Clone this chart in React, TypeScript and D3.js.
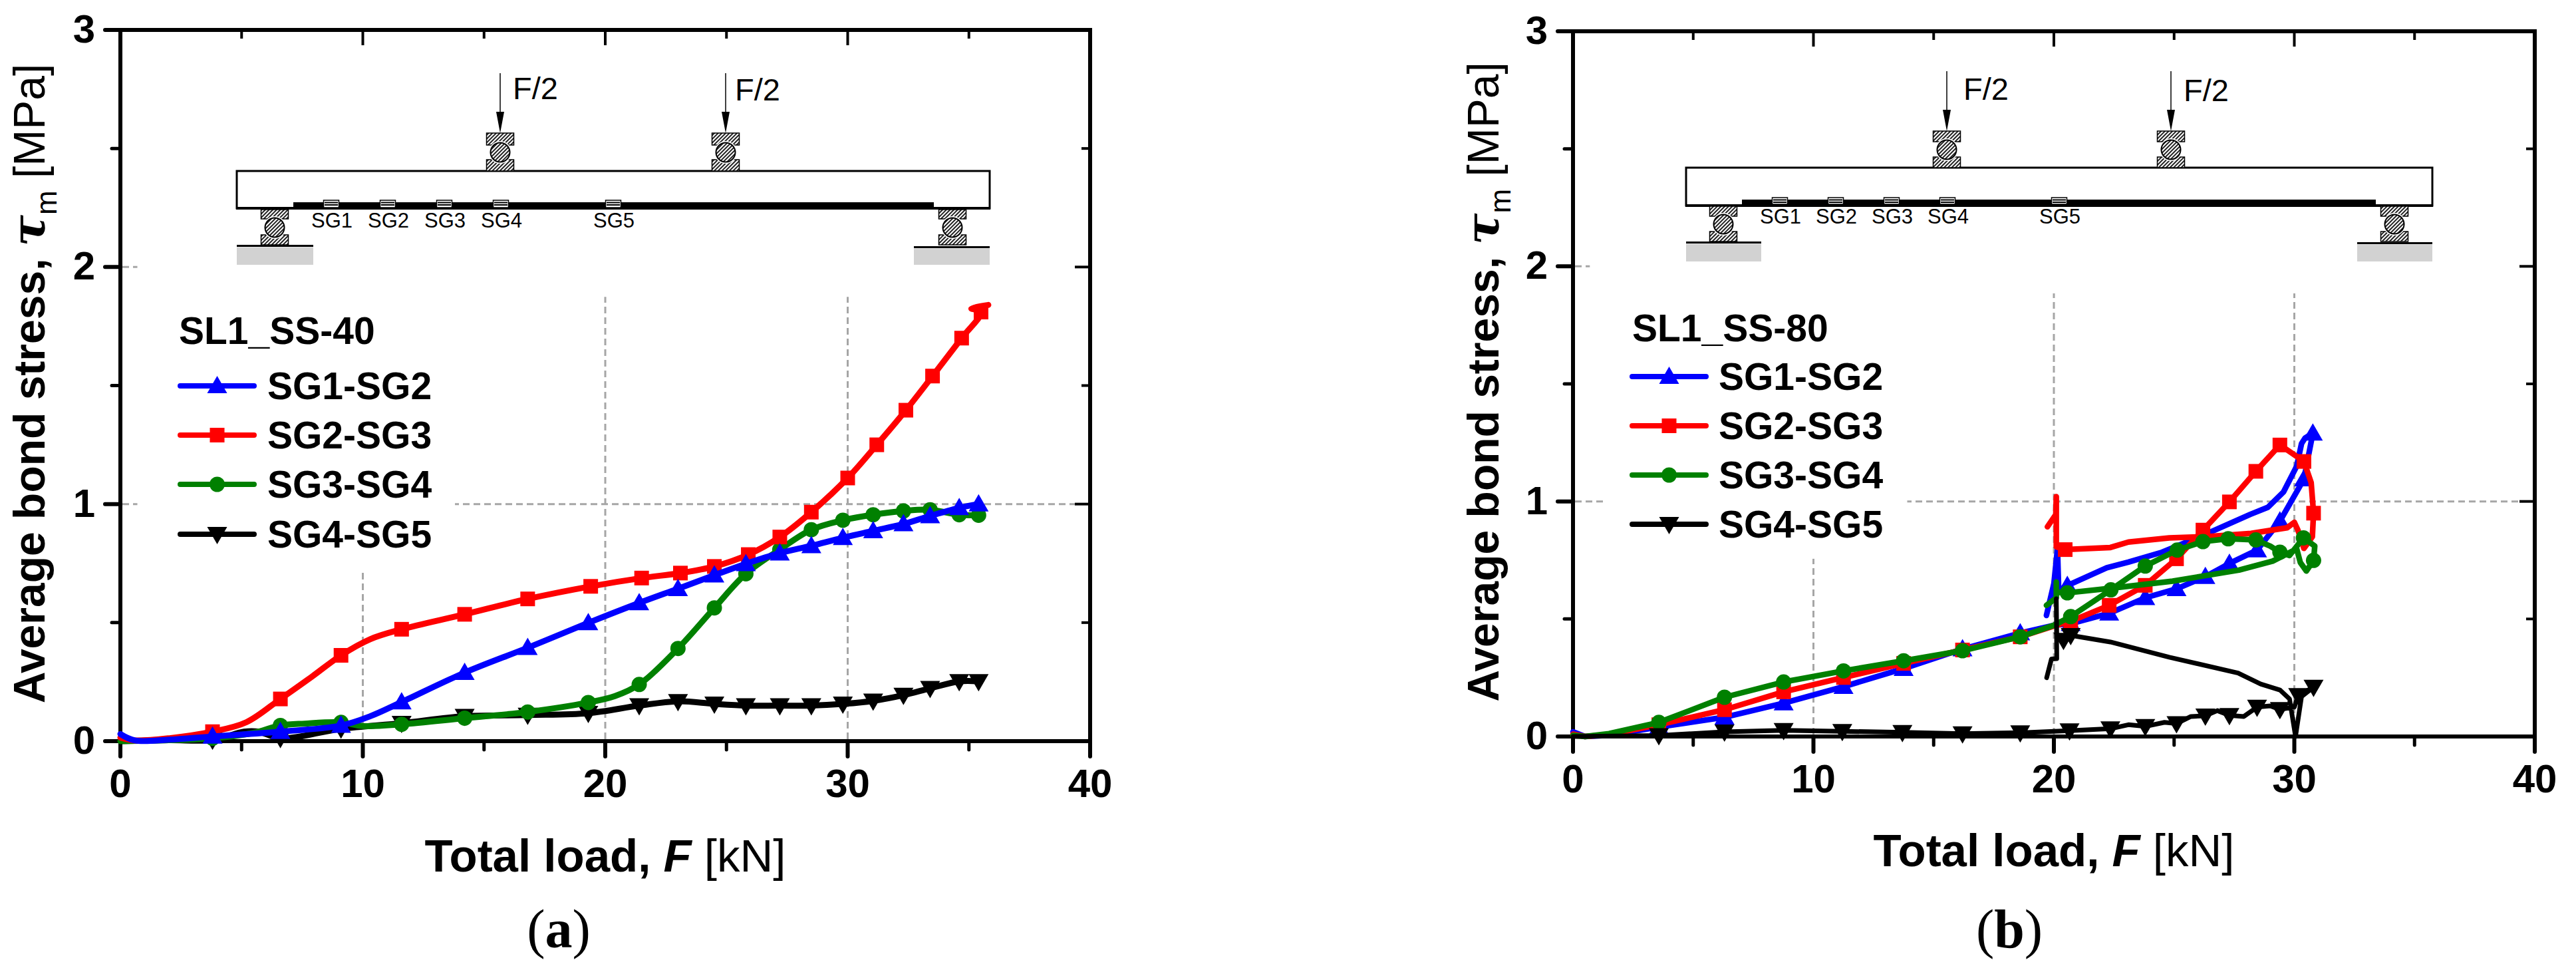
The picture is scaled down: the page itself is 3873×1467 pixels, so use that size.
import React from "react";
import * as d3 from "d3";

type P = [number, number, number?];

const seriesNames = ["SG1-SG2", "SG2-SG3", "SG3-SG4", "SG4-SG5"];
const seriesColors = ["#0000ff", "#ff0000", "#008000", "#000000"];
const seriesShapes = ["up", "square", "circle", "down"];
const xMajor = [0, 10, 20, 30, 40];
const xMinor = [5, 15, 25, 35];
const yMajor = [0, 1, 2, 3];
const yMinor = [0.5, 1.5, 2.5];
const gaugeNames = ["SG1", "SG2", "SG3", "SG4", "SG5"];

// third tuple element = a marker is drawn at this reading
const a_sg12: P[] = [[0,0.03],[0.6,0.003],[2,0.006],[3.8,0.02,1],[6.6,0.04,1],[9.1,0.066,1],[10.3,0.105],[11.6,0.165,1],[14.2,0.289,1],[16.8,0.394,1],[19.3,0.499,1],[21.4,0.583,1],[23,0.643,1],[24.5,0.7,1],[25.8,0.748,1],[27.2,0.793,1],[28.5,0.824,1],[29.8,0.858,1],[31.05,0.887,1],[32.3,0.916,1],[33.4,0.95,1],[34.6,0.984,1],[35.4,1.0,1]];
const a_sg23: P[] = [[0,0.015],[0.6,0.003],[2,0.012],[3.8,0.04,1],[5.2,0.08],[6.6,0.178,1],[7.9,0.272],[9.1,0.362,1],[10.3,0.43],[11.6,0.472,1],[14.2,0.535,1],[16.8,0.6,1],[19.4,0.653,1],[21.5,0.688,1],[23.1,0.709,1],[24.5,0.737,1],[25.9,0.787,1],[27.2,0.861,1],[28.5,0.966,1],[30,1.11,1],[31.2,1.25,1],[32.4,1.396,1],[33.5,1.54,1],[34.7,1.7,1],[35.5,1.81,1],[35.1,1.825],[35.8,1.84]];
const a_sg34: P[] = [[0,0],[2,0.004],[3.8,0.012,1],[5.5,0.035],[6.6,0.066,1],[7.6,0.074],[9.1,0.079,1],[10,0.064],[11.6,0.071,1],[14.2,0.097,1],[16.8,0.123,1],[19.3,0.163,1],[20.4,0.19],[21.4,0.239,1],[23,0.391,1],[24.5,0.562,1],[25.8,0.706,1],[27.2,0.808,1],[28.5,0.892,1],[29.8,0.932,1],[31.05,0.955,1],[32.3,0.971,1],[33.4,0.976,1],[34.6,0.955,1],[35.4,0.953,1]];
const a_sg45: P[] = [[0,0],[2,0.004],[3.8,0.005,1],[5.1,0.04],[5.7,0.04],[6.6,0.012,1],[9.1,0.052,1],[11.6,0.076,1],[14.2,0.105,1],[16.8,0.11,1],[19.3,0.118,1],[21.4,0.15,1],[23,0.168,1],[24.5,0.157,1],[25.8,0.15,1],[27.2,0.15,1],[28.5,0.15,1],[29.8,0.157,1],[31.05,0.17,1],[32.3,0.194,1],[33.4,0.223,1],[34.6,0.252,1],[35.4,0.252,1]];

const b_sg12: P[] = [[0,0.02],[0.5,0],[1.5,0.005],[3.57,0.04,1],[6.3,0.082,1],[8.76,0.142,1],[11.25,0.212,1],[13.75,0.289,1],[16.2,0.372,1],[18.6,0.44,1],[20,0.473],[20.7,0.48,1],[22.3,0.524,1],[23.8,0.59,1],[25.1,0.628,1],[26.3,0.68,1],[27.3,0.736,1],[28.45,0.793,1],[29.4,0.916,1],[30.4,1.095,1],[30.77,1.29,1],[30.45,1.27],[30.3,1.246],[30.1,1.15],[29.55,1.04],[28.9,0.975],[28.17,0.945],[26.3,0.86],[24.5,0.784],[23.1,0.742],[22.2,0.718],[20.56,0.642,1],[20.2,0.62],[20.15,0.8],[20,0.65],[19.69,0.515]];
const b_sg23: P[] = [[0,0.01],[0.5,0],[1.5,0.008],[3.57,0.05,1],[6.3,0.114,1],[8.76,0.19,1],[11.25,0.251,1],[13.75,0.311,1],[16.2,0.368,1],[18.6,0.424,1],[20,0.47],[20.7,0.49,1],[22.3,0.558,1],[23.8,0.643,1],[25.1,0.756,1],[26.2,0.878,1],[27.3,0.998,1],[28.4,1.128,1],[29.4,1.24,1],[30.4,1.17,1],[30.7,1.08],[30.8,0.95,1],[30.75,0.85],[30.4,0.8],[30.15,0.878],[30,0.911],[29.7,0.888],[28.2,0.864],[26.3,0.85],[24.8,0.845],[23.1,0.827],[22.35,0.804],[20.47,0.795,1],[20.1,0.807],[20.1,1.02],[20.08,0.944],[19.73,0.892]];
const b_sg34: P[] = [[0,0.005],[0.5,0],[1.5,0.012],[3.57,0.06,1],[6.3,0.167,1],[8.76,0.232,1],[11.25,0.279,1],[13.75,0.322,1],[16.2,0.365,1],[18.6,0.424,1],[20,0.473],[20.7,0.51,1],[22.37,0.624,1],[23.8,0.725,1],[25.13,0.793,1],[26.2,0.829,1],[27.25,0.841,1],[28.4,0.836,1],[29.0,0.81],[29.4,0.784,1],[29.8,0.77],[30.38,0.845,1],[30.85,0.81],[30.8,0.749,1],[30.5,0.704],[30.25,0.74],[30.1,0.798],[29.1,0.746],[27.7,0.708],[24.94,0.661],[22.6,0.633],[20.56,0.611,1],[20.1,0.614],[20.1,0.657],[20.1,0.59],[19.69,0.558]];
const b_sg45: P[] = [[0,0],[3.57,0.004,1],[6.3,0.02,1],[8.76,0.026,1],[11.2,0.022,1],[13.7,0.018,1],[16.2,0.012,1],[18.6,0.016,1],[20.65,0.025,1],[22.35,0.033,1],[23.1,0.05],[23.8,0.043,1],[24.6,0.06],[25.1,0.055,1],[25.7,0.085],[26.3,0.088,1],[26.8,0.11],[27.3,0.09,1],[27.9,0.085],[28.45,0.125,1],[29.0,0.13],[29.4,0.115,1],[30,0.125],[30.16,0.175,1],[30.8,0.21,1],[30.3,0.17],[30.05,0.0],[29.8,0.16],[29.4,0.198],[28.6,0.223],[27.66,0.27],[24.8,0.337],[22.35,0.402],[20.7,0.43,1],[20.4,0.41,1],[20.12,0.43],[20.1,0.586],[20.12,0.331],[19.9,0.33],[19.7,0.25]];

type Layout = {
  id: string; left: number; right: number; top: number; bottom: number; curve: any;
  title: string; panel: string; panelX: number; panelY: number;
  yTitleX: number; xTitleY: number; legendTitleX: number; legendTitleY: number;
  legendX0: number; legendX1: number; legendTextX: number; legendY: number[];
  maskInset: [number, number]; maskLegend: [number, number, number];
  order: number[]; series: P[][]; widths: number[];
  beam: number[]; strip: number[]; gauges: number[]; gaugeY: number[]; labelY: number;
  arrows: number[]; arrowY: number[]; fText: number[][];
  topBlocks: number[]; botBlocks: number[]; baseL: number[]; baseR: number[];
};

const panelA: Layout = {
  id: "a", left: 181, right: 1639, top: 45, bottom: 1114, curve: d3.curveCatmullRom.alpha(0.5),
  title: "SL1_SS-40", panel: "a", panelX: 840, panelY: 1424,
  yTitleX: 67, xTitleY: 1310, legendTitleX: 269, legendTitleY: 517,
  legendX0: 271, legendX1: 382, legendTextX: 402, legendY: [580, 654, 728, 803],
  maskInset: [0.7, 1.874], maskLegend: [0.7, 13.8, 0.71],
  order: [3, 2, 1, 0], series: [a_sg12, a_sg23, a_sg34, a_sg45], widths: [9, 9, 9, 9],
  beam: [356, 1488, 257, 313], strip: [441, 1404, 304, 312], gauges: [498, 583, 668, 753, 922], gaugeY: [301, 312], labelY: 342,
  arrows: [752, 1091], arrowY: [110, 168, 200], fText: [[771, 149], [1105, 151]],
  topBlocks: [200, 218, 240, 257, 229], botBlocks: [315, 329, 353, 368, 342, 413, 1432],
  baseL: [356, 471, 368, 371, 398], baseR: [1374, 1488, 370, 373, 398],
};

const panelB: Layout = {
  id: "b", left: 2365, right: 3811, top: 47, bottom: 1107, curve: d3.curveLinear,
  title: "SL1_SS-80", panel: "b", panelX: 3021, panelY: 1424,
  yTitleX: 2253, xTitleY: 1302, legendTitleX: 2454, legendTitleY: 513,
  legendX0: 2454, legendX1: 2565, legendTextX: 2584, legendY: [566, 640, 714, 788],
  maskInset: [0.7, 1.885], maskLegend: [1.4, 13.9, 0.756],
  order: [0, 1, 2, 3], series: [b_sg12, b_sg23, b_sg34, b_sg45], widths: [8.5, 8.5, 8.5, 7],
  beam: [2535, 3657, 252, 309], strip: [2619, 3572, 300, 307], gauges: [2676, 2760, 2844, 2928, 3096], gaugeY: [297, 307], labelY: 336,
  arrows: [2927, 3264], arrowY: [107, 165, 197], fText: [[2952, 150], [3283, 152]],
  topBlocks: [197, 213, 236, 252, 225], botBlocks: [310, 325, 348, 363, 337, 2591, 3600],
  baseL: [2535, 2648, 363, 366, 393], baseR: [3544, 3657, 364, 367, 393],
};

const SANS = "'Liberation Sans', Arial, sans-serif";

function Marker({ shape, x, y, color }: { shape: string; x: number; y: number; color: string }) {
  if (shape === "square") return <rect x={x - 11} y={y - 11} width={22} height={22} fill={color} />;
  if (shape === "circle") return <circle cx={x} cy={y} r={11.5} fill={color} />;
  const s = shape === "up" ? 1 : -1;
  return <path d={`M${x - 15},${y + s * 11}L${x + 15},${y + s * 11}L${x},${y - s * 15}Z`} fill={color} />;
}

function Support({ cx, y0, y1, y2, y3, cy }: { cx: number; y0: number; y1: number; y2: number; y3: number; cy: number }) {
  const w = 41;
  return (
    <g stroke="#000" strokeWidth={1.5}>
      <rect x={cx - w / 2} y={y0} width={w} height={y1 - y0} fill="url(#hatch)" />
      <rect x={cx - w / 2} y={y2} width={w} height={y3 - y2} fill="url(#hatch)" />
      <circle cx={cx} cy={cy} r={17} fill="#fff" stroke="none" />
      <circle cx={cx} cy={cy} r={14.5} fill="url(#hatch)" strokeWidth={2} />
    </g>
  );
}

function Inset({ L }: { L: Layout }) {
  const [bx0, bx1, by0, by1] = L.beam;
  const [t0, t1, t2, t3, tc] = L.topBlocks;
  const [b0, b1, b2, b3, bc, bl, br] = L.botBlocks;
  const [a0, a1, a2] = L.arrowY;
  return (
    <g>
      <rect x={bx0} y={by0} width={bx1 - bx0} height={by1 - by0} fill="#fff" stroke="#000" strokeWidth={3} />
      <line x1={bx0 - 1} x2={bx1 + 1} y1={by1} y2={by1} stroke="#000" strokeWidth={4} />
      <rect x={L.strip[0]} y={L.strip[2]} width={L.strip[1] - L.strip[0]} height={L.strip[3] - L.strip[2]} fill="#000" />
      {L.gauges.map((g, i) => (
        <g key={i}>
          <rect x={g - 11.5} y={L.gaugeY[0]} width={23} height={L.gaugeY[1] - L.gaugeY[0]} fill="#fff" stroke="#000" strokeWidth={1.5} />
          <rect x={g - 10} y={L.gaugeY[0] + 2.5} width={20} height={2} fill="#000" />
          <rect x={g - 10} y={L.gaugeY[0] + 6} width={20} height={2} fill="#000" />
          <text x={g + 1} y={L.labelY} textAnchor="middle" fontFamily={SANS} fontSize={31}>{gaugeNames[i]}</text>
        </g>
      ))}
      {L.arrows.map((x, i) => (
        <g key={i}>
          <line x1={x} x2={x} y1={a0} y2={a1 + 5} stroke="#000" strokeWidth={1.5} />
          <path d={`M${x - 6},${a1}L${x + 6},${a1}L${x},${a2}Z`} fill="#000" />
          <Support cx={x} y0={t0} y1={t1} y2={t2} y3={t3} cy={tc} />
          <text x={L.fText[i][0]} y={L.fText[i][1]} fontFamily={SANS} fontSize={47}>F/2</text>
        </g>
      ))}
      <Support cx={bl} y0={b0} y1={b1} y2={b2} y3={b3} cy={bc} />
      <Support cx={br} y0={b0} y1={b1} y2={b2} y3={b3} cy={bc} />
      {[L.baseL, L.baseR].map((b, i) => (
        <g key={i}>
          <rect x={b[0]} y={b[2]} width={b[1] - b[0]} height={b[3] - b[2]} fill="#000" />
          <rect x={b[0]} y={b[3] + 0.5} width={b[1] - b[0]} height={b[4] - b[3] - 0.5} fill="#d2d2d2" />
        </g>
      ))}
    </g>
  );
}

function Panel({ L }: { L: Layout }) {
  const x = d3.scaleLinear().domain([0, 40]).range([L.left, L.right]);
  const y = d3.scaleLinear().domain([0, 3]).range([L.bottom, L.top]);
  const line = d3.line<P>().x((d) => x(d[0])).y((d) => y(d[1])).curve(L.curve);
  const cx = (L.left + L.right) / 2;
  const cy = (L.top + L.bottom) / 2;
  const grid = { stroke: "#a6a6a6", strokeWidth: 3, strokeDasharray: "10 6" };
  return (
    <g>
      {[10, 20, 30].map((v) => <line key={v} x1={x(v)} x2={x(v)} y1={L.bottom - 3} y2={L.top + 3} {...grid} />)}
      {[1, 2].map((v) => <line key={v} x1={L.left + 3} x2={x(39.5)} y1={y(v)} y2={y(v)} {...grid} />)}
      <rect x={x(L.maskInset[0])} y={L.top + 3} width={L.right - x(L.maskInset[0]) - 3} height={y(L.maskInset[1]) - L.top - 3} fill="#fff" />
      <rect x={x(L.maskLegend[0])} y={y(L.maskInset[1]) - 1} width={x(L.maskLegend[1]) - x(L.maskLegend[0])} height={y(L.maskLegend[2]) - y(L.maskInset[1]) + 1} fill="#fff" />

      {xMajor.map((v) => (
        <g key={v}>
          <line x1={x(v)} x2={x(v)} y1={L.bottom} y2={L.bottom + 23} stroke="#000" strokeWidth={6} strokeLinecap="round" />
          <line x1={x(v)} x2={x(v)} y1={L.top} y2={L.top + 23} stroke="#000" strokeWidth={4} />
          <text x={x(v)} y={L.bottom + 84} textAnchor="middle" fontFamily={SANS} fontWeight="bold" fontSize={60}>{v}</text>
        </g>
      ))}
      {xMinor.map((v) => (
        <g key={v}>
          <line x1={x(v)} x2={x(v)} y1={L.bottom} y2={L.bottom + 13} stroke="#000" strokeWidth={5} strokeLinecap="round" />
          <line x1={x(v)} x2={x(v)} y1={L.top} y2={L.top + 13} stroke="#000" strokeWidth={4} />
        </g>
      ))}
      {yMajor.map((v) => (
        <g key={v}>
          <line x1={L.left - 23} x2={L.left} y1={y(v)} y2={y(v)} stroke="#000" strokeWidth={6} strokeLinecap="round" />
          <line x1={L.right - 23} x2={L.right} y1={y(v)} y2={y(v)} stroke="#000" strokeWidth={4} />
          <text x={L.left - 38} y={y(v) + 19} textAnchor="end" fontFamily={SANS} fontWeight="bold" fontSize={60}>{v}</text>
        </g>
      ))}
      {yMinor.map((v) => (
        <g key={v}>
          <line x1={L.left - 13} x2={L.left} y1={y(v)} y2={y(v)} stroke="#000" strokeWidth={5} strokeLinecap="round" />
          <line x1={L.right - 13} x2={L.right} y1={y(v)} y2={y(v)} stroke="#000" strokeWidth={4} />
        </g>
      ))}
      <rect x={L.left} y={L.top} width={L.right - L.left} height={L.bottom - L.top} fill="none" stroke="#000" strokeWidth={6} />

      <Inset L={L} />

      {L.order.map((i) => (
        <g key={i}>
          <path d={line(L.series[i]) ?? ""} fill="none" stroke={seriesColors[i]} strokeWidth={L.widths[i]} strokeLinejoin="round" strokeLinecap="round" />
          {L.series[i].filter((d) => d[2]).map((d, k) => (
            <Marker key={k} shape={seriesShapes[i]} x={x(d[0])} y={y(d[1])} color={seriesColors[i]} />
          ))}
        </g>
      ))}

      <text x={L.legendTitleX} y={L.legendTitleY} fontFamily={SANS} fontWeight="bold" fontSize={57}>{L.title}</text>
      {seriesNames.map((n, i) => (
        <g key={n}>
          <line x1={L.legendX0} x2={L.legendX1} y1={L.legendY[i]} y2={L.legendY[i]} stroke={seriesColors[i]} strokeWidth={8} strokeLinecap="round" />
          <Marker shape={seriesShapes[i]} x={(L.legendX0 + L.legendX1) / 2} y={L.legendY[i]} color={seriesColors[i]} />
          <text x={L.legendTextX} y={L.legendY[i] + 20} fontFamily={SANS} fontWeight="bold" fontSize={57}>{n}</text>
        </g>
      ))}

      <text x={cx} y={L.xTitleY} textAnchor="middle" fontFamily={SANS} fontSize={69} fontWeight="bold">
        Total load, <tspan fontStyle="italic">F</tspan><tspan fontWeight="normal"> [kN]</tspan>
      </text>
      <text transform={`translate(${L.yTitleX},${cy - 3}) rotate(-90)`} textAnchor="middle" fontFamily={SANS} fontSize={66} fontWeight="bold">
        Average bond stress, <tspan fontFamily="'DejaVu Serif', serif" fontStyle="italic" fontSize={70}>τ</tspan>
        <tspan fontSize={44} fontWeight="normal" dy={18}>m</tspan>
        <tspan fontWeight="normal" dy={-18}> [MPa]</tspan>
      </text>
      <text x={L.panelX} y={L.panelY} textAnchor="middle" fontFamily="'Liberation Serif', serif" fontSize={82}>
        (<tspan fontWeight="bold">{L.panel}</tspan>)
      </text>
    </g>
  );
}

export default function App() {
  return (
    <svg width={3873} height={1467} viewBox="0 0 3873 1467" style={{ position: "absolute", left: 0, top: 0, background: "#fff" }}>
      <defs>
        <pattern id="hatch" width={4} height={4} patternUnits="userSpaceOnUse" patternTransform="rotate(45)">
          <rect width={4} height={4} fill="#fff" />
          <rect width={2} height={4} fill="#222" />
        </pattern>
      </defs>
      <Panel L={panelA} />
      <Panel L={panelB} />
    </svg>
  );
}
